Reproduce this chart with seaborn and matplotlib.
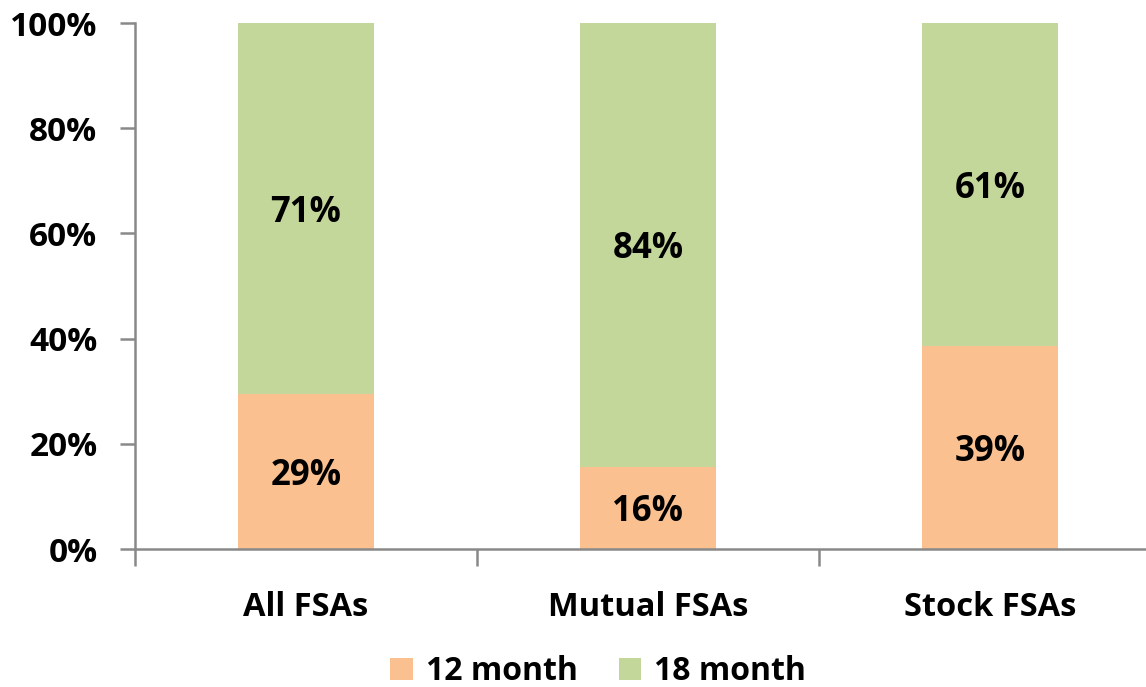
import matplotlib
matplotlib.use("Agg")
import matplotlib.pyplot as plt
import seaborn as sns
import pandas as pd
from matplotlib.patches import Patch
from matplotlib.ticker import FixedLocator, PercentFormatter

categories = ["All FSAs", "Mutual FSAs", "Stock FSAs"]
month12 = [0.295, 0.155, 0.386]
month18 = [0.705, 0.845, 0.614]
labels12 = ["29%", "16%", "39%"]
labels18 = ["71%", "84%", "61%"]
series_names = ["12 month", "18 month"]
yticks = [0, 0.2, 0.4, 0.6, 0.8, 1.0]

c12 = "#FAC090"
c18 = "#C4D79B"
axis_col = "#898989"

sns.set_style("white")
plt.rcParams["font.family"] = ["Open Sans", "DejaVu Sans"]
plt.rcParams["font.weight"] = "bold"
plt.rcParams["text.color"] = "black"

df = pd.DataFrame({"cat": categories, "m12": month12, "m18": month18})

fig = plt.figure(figsize=(11.46, 6.87), dpi=100)
ax = fig.add_axes([135 / 1146, 1 - 549 / 687, (1161 - 135) / 1146, (549 - 23) / 687])

sns.barplot(data=df, x="cat", y="m12", color=c12, width=0.4, ax=ax, saturation=1, linewidth=0)
sns.barplot(data=df, x="cat", y="m18", color=c18, width=0.4, ax=ax, saturation=1, linewidth=0,
            bottom=df["m12"].values)

for i, (a, b) in enumerate(zip(month12, month18)):
    ax.text(i, a / 2 - 0.008, labels12[i], ha="center", va="center", fontsize=25, fontweight="bold", color="black")
    ax.text(i, a + b / 2 - 0.008, labels18[i], ha="center", va="center", fontsize=25, fontweight="bold", color="black")

ax.set_xlim(-0.5, 2.5)
ax.set_ylim(0, 1.0)
ax.set_yticks(yticks)
ax.yaxis.set_major_formatter(PercentFormatter(1.0, decimals=0))
ax.set_xlabel("")
ax.set_ylabel("")
ax.xaxis.set_minor_locator(FixedLocator([-0.5, 0.5, 1.5, 2.5]))
ax.tick_params(axis="x", which="major", bottom=True, length=0, pad=30, labelsize=23.5, labelcolor="black")
ax.tick_params(axis="x", which="minor", bottom=True, length=12, width=1.8, color=axis_col, direction="out")
ax.tick_params(axis="y", which="major", left=True, length=11, width=1.8, color=axis_col, direction="out",
               labelsize=24, pad=16, labelcolor="black")
for lab in ax.get_xticklabels() + ax.get_yticklabels():
    lab.set_fontweight("bold")

sns.despine(ax=ax, top=True, right=True)
for s in ["left", "bottom"]:
    ax.spines[s].set_color(axis_col)
    ax.spines[s].set_linewidth(1.8)
ax.grid(False)

handles = [Patch(facecolor=c12, edgecolor="none"), Patch(facecolor=c18, edgecolor="none")]
fig.legend(handles, series_names, loc="center", bbox_to_anchor=(0.522, 0.022), ncol=2,
           frameon=False, prop={"size": 23, "weight": "bold"}, handlelength=0.7,
           handleheight=0.7, handletextpad=0.4, columnspacing=1.3)

fig.savefig("out.png", dpi=100)
